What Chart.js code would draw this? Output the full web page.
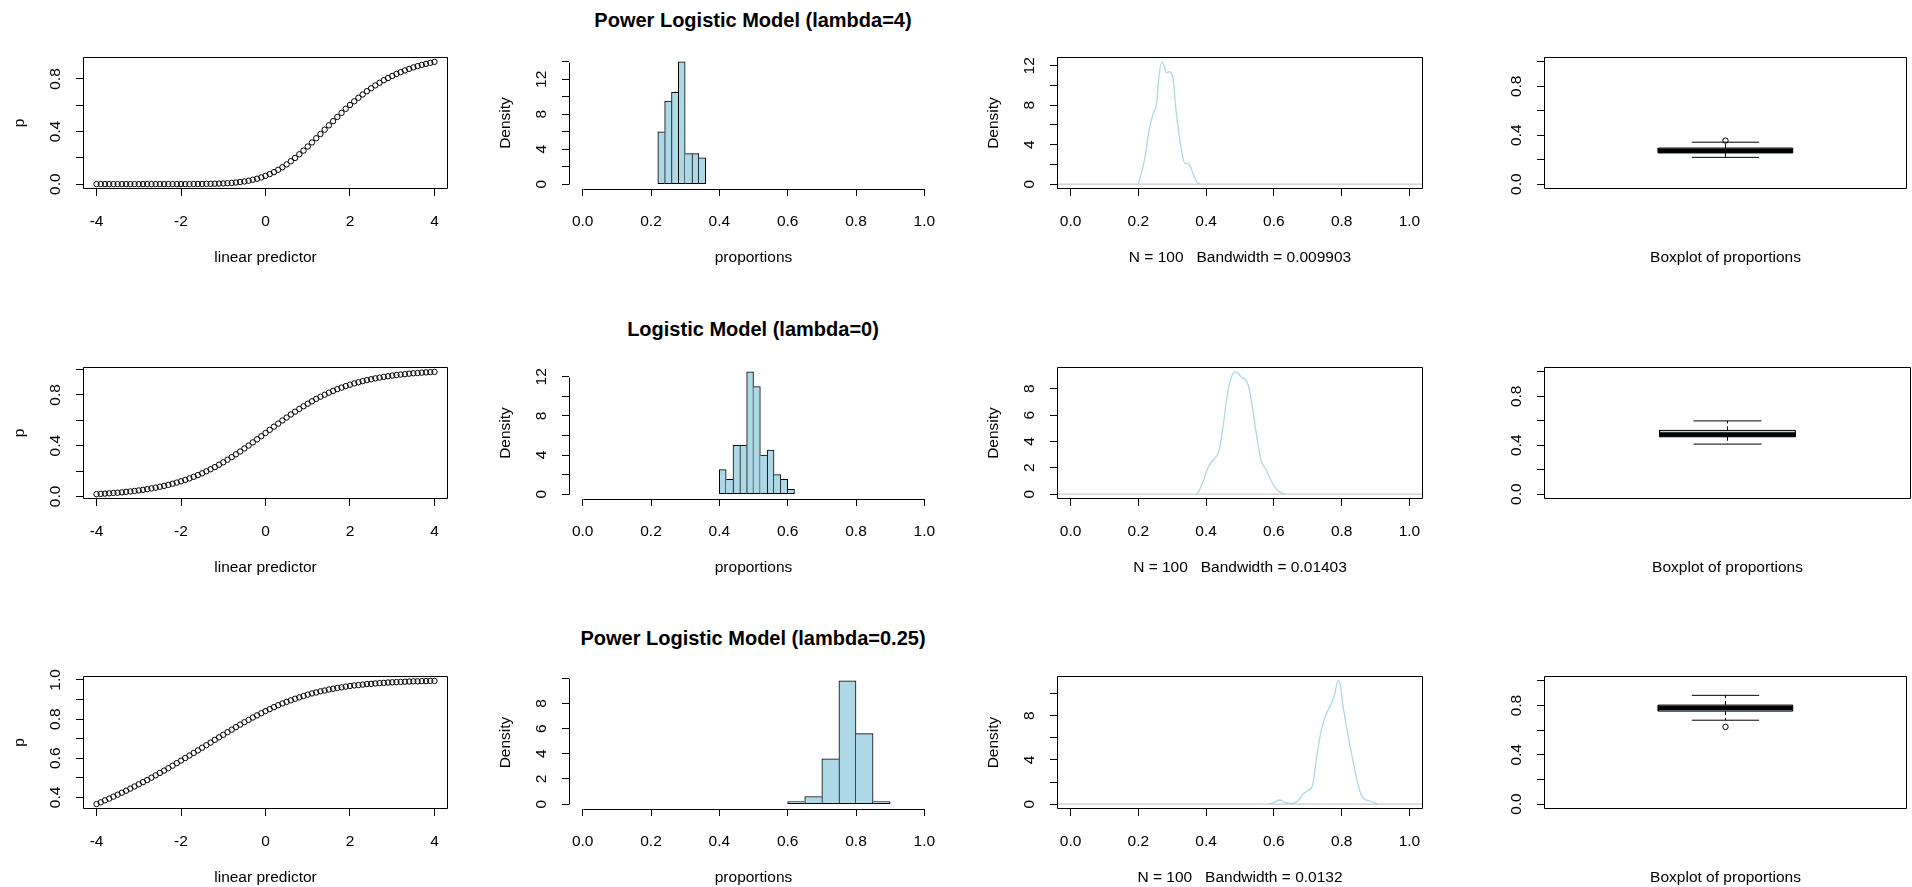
<!DOCTYPE html>
<html>
<head>
<meta charset="utf-8">
<title>Power logistic simulations</title>
<script src="https://cdn.jsdelivr.net/npm/chart.js@4/dist/chart.umd.min.js"></script>
<style>
  html, body { margin: 0; padding: 0; background: #fff; }
  body { width: 1912px; height: 887px; position: relative; overflow: hidden; font-family: "Liberation Sans", Arial, sans-serif; }
  canvas { position: absolute; }
  .main { position: absolute; transform: translate(-50%, -50%); font-weight: bold; font-size: 20px; white-space: nowrap; color: #000; }
</style>
</head>
<body>
<div class="main" style="left:753px;top:20px">Power Logistic Model (lambda=4)</div>
<div class="main" style="left:753px;top:329px">Logistic Model (lambda=0)</div>
<div class="main" style="left:753px;top:638px">Power Logistic Model (lambda=0.25)</div>
<script>
// linear predictor grid and the fitted probabilities for each lambda
const linPred = [-4,-3.9,-3.8,-3.7,-3.6,-3.5,-3.4,-3.3,-3.2,-3.1,-3,-2.9,-2.8,-2.7,-2.6,-2.5,-2.4,-2.3,-2.2,-2.1,-2,-1.9,-1.8,-1.7,-1.6,-1.5,-1.4,-1.3,-1.2,-1.1,-1,-0.9,-0.8,-0.7,-0.6,-0.5,-0.4,-0.3,-0.2,-0.1,0,0.1,0.2,0.3,0.4,0.5,0.6,0.7,0.8,0.9,1,1.1,1.2,1.3,1.4,1.5,1.6,1.7,1.8,1.9,2,2.1,2.2,2.3,2.4,2.5,2.6,2.7,2.8,2.9,3,3.1,3.2,3.3,3.4,3.5,3.6,3.7,3.8,3.9,4];
const pLambda4 = [0,0,0,0,0,0,0,0,0,0,0,0,0,0,0,0,0,0,0,0,0,0,0,
  0.001,0.001,0.001,0.002,0.002,0.003,0.004,0.005,0.007,0.009,0.012,0.016,0.020,0.026,0.033,0.041,0.051,
  0.063,0.076,0.091,0.109,0.128,0.150,0.174,0.199,0.227,0.255,0.286,0.317,0.349,0.381,0.414,0.447,0.479,
  0.511,0.542,0.573,0.602,0.630,0.657,0.682,0.707,0.729,0.751,0.771,0.790,0.807,0.823,0.838,0.852,0.865,
  0.877,0.888,0.898,0.907,0.915,0.923,0.930];
const pLambda0 = [0.018,0.020,0.022,0.024,0.027,0.029,0.032,0.036,0.039,0.043,0.047,0.052,0.057,0.063,0.069,
  0.076,0.083,0.091,0.100,0.109,0.119,0.130,0.142,0.154,0.168,0.182,0.198,0.214,0.231,0.250,0.269,0.289,
  0.310,0.332,0.354,0.378,0.401,0.426,0.450,0.475,0.500,0.525,0.550,0.574,0.599,0.622,0.646,0.668,0.690,
  0.711,0.731,0.750,0.769,0.786,0.802,0.818,0.832,0.846,0.858,0.870,0.881,0.891,0.900,0.909,0.917,0.924,
  0.931,0.937,0.943,0.948,0.953,0.957,0.961,0.964,0.968,0.971,0.973,0.976,0.978,0.980,0.982];
const pLambda025 = [0.366,0.375,0.385,0.394,0.404,0.414,0.424,0.434,0.445,0.456,0.467,0.478,0.489,0.501,0.513,
  0.525,0.537,0.549,0.562,0.575,0.588,0.601,0.614,0.627,0.640,0.654,0.667,0.680,0.694,0.707,0.720,0.733,
  0.746,0.759,0.772,0.784,0.796,0.808,0.819,0.830,0.841,0.851,0.861,0.871,0.880,0.888,0.896,0.904,0.911,
  0.918,0.925,0.931,0.936,0.942,0.946,0.951,0.955,0.959,0.962,0.966,0.969,0.972,0.974,0.976,0.979,0.980,
  0.982,0.984,0.985,0.987,0.988,0.989,0.990,0.991,0.992,0.993,0.993,0.994,0.994,0.995,0.995];

// histogram breaks and densities of the simulated proportions
const histBreaks4 = [0.22,0.24,0.26,0.28,0.30,0.32,0.34,0.36];
const histDens4 = [6,9.5,10.5,14,3.5,3.5,3];
const histBreaks0 = [0.40,0.42,0.44,0.46,0.48,0.50,0.52,0.54,0.56,0.58,0.60,0.62];
const histDens0 = [2.5,1.5,5,5,12.5,11,4,4.5,2,1.5,0.5];
const histBreaks025 = [0.60,0.65,0.70,0.75,0.80,0.85,0.90];
const histDens025 = [0.2,0.6,3.6,9.8,5.6,0.2];

// kernel density estimates of the proportions
const densX4 = [0.200,0.209,0.219,0.232,0.244,0.254,0.260,0.269,0.275,0.283,0.291,0.296,0.303,0.310,0.317,0.327,0.337,0.346,0.353,0.361,0.373,0.381];
const densY4 = [0,1.1,2.6,5.5,7.2,8.2,10.6,12.4,12.1,11.3,11.4,11.3,10.6,7.9,5.8,3.5,2.1,2.1,1.8,1.1,0.2,0];
const densX0 = [0.371,0.379,0.394,0.405,0.418,0.438,0.450,0.460,0.471,0.487,0.504,0.519,0.528,0.538,0.550,0.563,0.578,0.592,0.612,0.632];
const densY0 = [0,0.25,1.15,2.0,2.5,3.3,5.1,7.1,8.6,9.28,8.9,8.6,7.9,6.35,4.3,2.5,1.8,1.0,0.25,0];
const densX025 = [0.587,0.600,0.617,0.632,0.656,0.671,0.686,0.700,0.714,0.725,0.740,0.755,0.769,0.779,0.789,0.796,0.803,0.816,0.831,0.848,0.862,0.882,0.906];
const densY025 = [0,0.15,0.37,0.15,0.06,0.3,0.9,1.2,1.7,4.0,6.7,8.2,9.1,9.9,11.16,10.8,9.1,6.7,4.3,1.8,0.6,0.3,0];
const bandwidths = ['0.009903','0.01403','0.0132'];

// boxplot statistics: lower whisker, Q1, median, Q3, upper whisker
const box4 = [0.219,0.255,0.272,0.295,0.343];
const out4 = [0.356];
const box0 = [0.409,0.469,0.488,0.521,0.599];
const out0 = [];
const box025 = [0.681,0.755,0.780,0.804,0.883];
const out025 = [0.627];

// axis ticks and their labels (blank labels are ticks without text)
const lpTicks = [-4,-2,0,2,4];
const lpLabels = ['-4','-2','0','2','4'];
const propTicks = [0,0.2,0.4,0.6,0.8,1];
const propLabels = ['0.0','0.2','0.4','0.6','0.8','1.0'];
const pTicks4 = [0,0.2,0.4,0.6,0.8];
const pLabels4 = ['0.0','','0.4','','0.8'];
const pTicks0 = [0,0.2,0.4,0.6,0.8,1];
const pLabels0 = ['0.0','','0.4','','0.8',''];
const pTicks025 = [0.4,0.5,0.6,0.7,0.8,0.9,1];
const pLabels025 = ['0.4','','0.6','','0.8','','1.0'];
const histTicks4 = [0,2,4,6,8,10,12,14];
const histLabels4 = ['0','','4','','8','','12',''];
const histTicks0 = [0,2,4,6,8,10,12];
const histLabels0 = ['0','','4','','8','','12'];
const histTicks025 = [0,2,4,6,8,10];
const histLabels025 = ['0','2','4','6','8',''];
const densTicks4 = [0,2,4,6,8,10,12];
const densLabels4 = ['0','','4','','8','','12'];
const densTicks0 = [0,2,4,6,8];
const densLabels0 = ['0','2','4','6','8'];
const densTicks025 = [0,2,4,6,8,10];
const densLabels025 = ['0','','4','','8',''];
const boxTicks = [0,0.2,0.4,0.6,0.8,1];
const boxLabels = ['0.0','','0.4','','0.8',''];

// ---- layout and styling ----
const FONT_FAMILY = '"Liberation Sans", Arial, Helvetica, sans-serif';
const FONT_SIZE = 15.5;
const FONT = { family: FONT_FAMILY, size: FONT_SIZE };
const LIGHTBLUE = '#ADD8E6';
const COLS = [[83, 452], [569, 938], [1057, 1423], [1544, 1911]];
const ROWS = [[57, 189], [367, 499], [676, 809]];
const LEFT = 95, BOTTOM = 80, TOP = 12, RIGHT = 1, TICK = 7;
const BOX_HALF = 0.2, STAPLE_HALF = 0.1;

function padRange(lo, hi) {
  const d = (hi - lo) * 0.04;
  return [lo - d, hi + d];
}

const measureCtx = document.createElement('canvas').getContext('2d');
function labelPad(labels) {
  measureCtx.font = FONT_SIZE + 'px ' + FONT_FAMILY;
  const widest = Math.max(...labels.map(l => measureCtx.measureText(l).width));
  return 20 - widest / 2;
}

// box round the plot region, or bare axis lines from first to last tick
const rFrame = {
  id: 'rFrame',
  afterDatasetsDraw(chart, args, opts) {
    const { ctx, chartArea: a } = chart;
    ctx.save();
    ctx.strokeStyle = '#000';
    ctx.lineWidth = 1;
    ctx.beginPath();
    if (opts.box) {
      ctx.rect(Math.round(a.left) + 0.5, Math.round(a.top) + 0.5,
        Math.round(a.right - a.left) - 1, Math.round(a.bottom - a.top) - 1);
    } else {
      const xs = chart.scales.x, ys = chart.scales.y;
      const xt = xs.ticks, yt = ys.ticks;
      const yb = Math.round(a.bottom) + 0.5, xl = Math.round(a.left) + 0.5;
      ctx.moveTo(Math.round(xs.getPixelForValue(xt[0].value)) + 0.5, yb);
      ctx.lineTo(Math.round(xs.getPixelForValue(xt[xt.length - 1].value)) + 0.5, yb);
      ctx.moveTo(xl, Math.round(ys.getPixelForValue(yt[0].value)) + 0.5);
      ctx.lineTo(xl, Math.round(ys.getPixelForValue(yt[yt.length - 1].value)) + 0.5);
    }
    ctx.stroke();
    ctx.restore();
  }
};

function xAxis(range, ticks, labels, title) {
  const show = ticks.length > 0;
  return {
    type: 'linear', position: 'bottom', min: range[0], max: range[1], offset: false,
    afterBuildTicks: s => { s.ticks = ticks.map(v => ({ value: v })); },
    afterFit: s => { s.height = BOTTOM; s.paddingLeft = 0; s.paddingRight = 0; },
    grid: { drawOnChartArea: false, drawTicks: show, tickLength: TICK, tickColor: '#000', tickWidth: 1, offset: false },
    border: { display: false },
    ticks: { display: show, autoSkip: false, maxRotation: 0, minRotation: 0, padding: 16.5,
      color: '#000', font: FONT, callback: (v, i) => labels[i] },
    title: { display: true, text: title, color: '#000', font: FONT, padding: { top: 0, bottom: 1.7 } }
  };
}

function yAxis(range, ticks, labels, title) {
  return {
    type: 'linear', position: 'left', min: range[0], max: range[1],
    afterBuildTicks: s => { s.ticks = ticks.map(v => ({ value: v })); },
    afterFit: s => { s.width = LEFT; s.paddingTop = 0; s.paddingBottom = 0; },
    grid: { drawOnChartArea: false, drawTicks: true, tickLength: TICK, tickColor: '#000', tickWidth: 1 },
    border: { display: false },
    ticks: { autoSkip: false, minRotation: 90, maxRotation: 90, crossAlign: 'center', padding: labelPad(labels),
      color: '#000', font: FONT, callback: (v, i) => labels[i] },
    title: { display: !!title, text: title || '', color: '#000', font: FONT, padding: { top: 22.7, bottom: 0 } }
  };
}

function makeChart(col, row, type, datasets, scales, boxed) {
  const [bl, br] = COLS[col], [bt, bb] = ROWS[row];
  const w = br - bl + LEFT + RIGHT, h = bb - bt + TOP + BOTTOM;
  const cv = document.createElement('canvas');
  cv.width = w; cv.height = h;
  cv.style.left = (bl - LEFT) + 'px';
  cv.style.top = (bt - TOP) + 'px';
  cv.style.width = w + 'px';
  cv.style.height = h + 'px';
  document.body.appendChild(cv);
  return new Chart(cv, {
    type: type,
    data: { datasets: datasets },
    plugins: [rFrame],
    options: {
      responsive: false, animation: false, devicePixelRatio: 1, events: [],
      layout: { padding: { top: TOP, right: RIGHT, left: 0, bottom: 0 } },
      scales: scales,
      plugins: { legend: { display: false }, tooltip: { enabled: false }, rFrame: { box: boxed } }
    }
  });
}

// column 1: fitted probability against the linear predictor
function curvePanel(row, ys, yTicks, yLabels) {
  const pts = linPred.map((x, i) => ({ x: x, y: ys[i] }));
  makeChart(0, row, 'scatter', [{
    data: pts, showLine: false, pointRadius: 2.7, pointBorderWidth: 1,
    pointBorderColor: '#000', pointBackgroundColor: 'rgba(0,0,0,0)'
  }], {
    x: xAxis(padRange(-4, 4), lpTicks, lpLabels, 'linear predictor'),
    y: yAxis(padRange(Math.min(...ys), Math.max(...ys)), yTicks, yLabels, 'p')
  }, true);
}

// column 2: histogram of proportions (density scale); a shared edge is
// outlined once, by the taller of the two neighbouring bars
function histPanel(row, breaks, dens, yTicks, yLabels) {
  const last = dens.length - 1;
  const pts = dens.map((d, i) => ({ x: (breaks[i] + breaks[i + 1]) / 2, y: d }));
  makeChart(1, row, 'bar', [{
    data: pts, backgroundColor: LIGHTBLUE, borderColor: '#000', borderSkipped: false,
    borderWidth: ctx => {
      const i = ctx.dataIndex;
      const prev = i > 0 ? dens[i - 1] : -1;
      const next = i < last ? dens[i + 1] : -1;
      return { top: 1, bottom: 1, left: prev <= dens[i] ? 1 : 0, right: next < dens[i] ? 1 : 0 };
    },
    barPercentage: 1, categoryPercentage: 1
  }], {
    x: xAxis(padRange(0, 1), propTicks, propLabels, 'proportions'),
    y: yAxis(padRange(0, Math.max(...dens)), yTicks, yLabels, 'Density')
  }, false);
}

// column 3: kernel density with the grey zero line
function densPanel(row, xs, ys, yTicks, yLabels, bw) {
  const xr = padRange(0, 1);
  makeChart(2, row, 'scatter', [{
    data: [{ x: xr[0], y: 0 }, { x: xr[1], y: 0 }], showLine: true, pointRadius: 0,
    borderColor: '#BEBEBE', borderWidth: 1
  }, {
    data: xs.map((x, i) => ({ x: x, y: ys[i] })), showLine: true, pointRadius: 0,
    borderColor: LIGHTBLUE, borderWidth: 1.3, cubicInterpolationMode: 'monotone'
  }], {
    x: xAxis(xr, propTicks, propLabels, 'N = 100   Bandwidth = ' + bw),
    y: yAxis(padRange(0, Math.max(...ys)), yTicks, yLabels, 'Density')
  }, true);
}

// column 4: boxplot of proportions
function boxPanel(row, st, outs) {
  const [lo, q1, med, q3, hi] = st;
  const seg = (pts, extra) => Object.assign({
    data: pts.map(p => ({ x: p[0], y: p[1] })), showLine: true, pointRadius: 0,
    borderColor: '#000', borderWidth: 1, fill: false
  }, extra || {});
  const l = 1 - BOX_HALF, r = 1 + BOX_HALF, sl = 1 - STAPLE_HALF, sr = 1 + STAPLE_HALF;
  makeChart(3, row, 'scatter', [
    seg([[l, med], [r, med]], { borderWidth: 4.5 }),
    { data: outs.map(y => ({ x: 1, y: y })), showLine: false, pointRadius: 2.7, pointBorderWidth: 1,
      pointBorderColor: '#000', pointBackgroundColor: 'rgba(0,0,0,0)' },
    seg([[l, q1], [r, q1], [r, q3], [l, q3], [l, q1]], { fill: 'shape', backgroundColor: LIGHTBLUE }),
    seg([[1, q3], [1, hi]], { borderDash: [4, 3] }),
    seg([[1, q1], [1, lo]], { borderDash: [4, 3] }),
    seg([[sl, hi], [sr, hi]]),
    seg([[sl, lo], [sr, lo]])
  ], {
    x: xAxis([1 - 0.54, 1 + 0.54], [], [], 'Boxplot of proportions'),
    y: yAxis(padRange(0, 1), boxTicks, boxLabels, '')
  }, true);
}

curvePanel(0, pLambda4, pTicks4, pLabels4);
curvePanel(1, pLambda0, pTicks0, pLabels0);
curvePanel(2, pLambda025, pTicks025, pLabels025);
histPanel(0, histBreaks4, histDens4, histTicks4, histLabels4);
histPanel(1, histBreaks0, histDens0, histTicks0, histLabels0);
histPanel(2, histBreaks025, histDens025, histTicks025, histLabels025);
densPanel(0, densX4, densY4, densTicks4, densLabels4, bandwidths[0]);
densPanel(1, densX0, densY0, densTicks0, densLabels0, bandwidths[1]);
densPanel(2, densX025, densY025, densTicks025, densLabels025, bandwidths[2]);
boxPanel(0, box4, out4);
boxPanel(1, box0, out0);
boxPanel(2, box025, out025);
</script>
</body>
</html>
